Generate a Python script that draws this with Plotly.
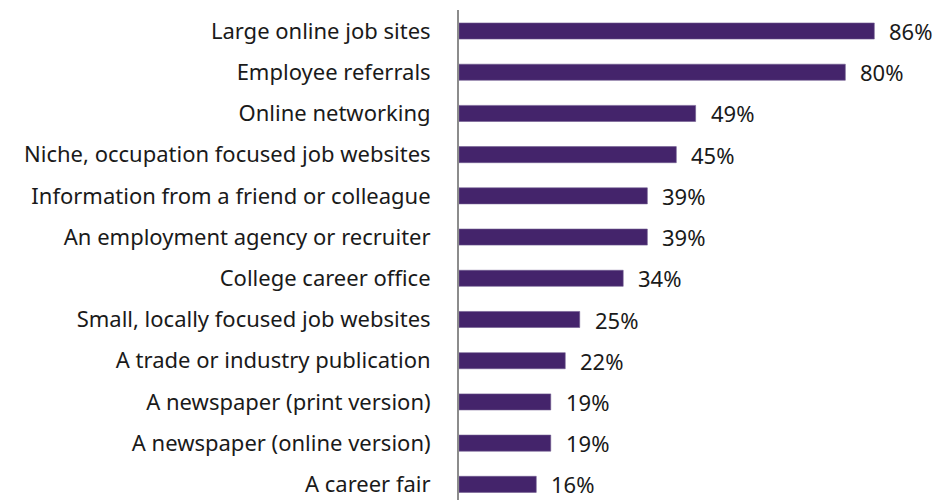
import plotly.graph_objects as go

categories = [
    "Large online job sites",
    "Employee referrals",
    "Online networking",
    "Niche, occupation focused job websites",
    "Information from a friend or colleague",
    "An employment agency or recruiter",
    "College career office",
    "Small, locally focused job websites",
    "A trade or industry publication",
    "A newspaper (print version)",
    "A newspaper (online version)",
    "A career fair",
]
values = [86, 80, 49, 45, 39, 39, 34, 25, 22, 19, 19, 16]

BAR_COLOR = "#44246b"
TEXT_COLOR = "#1a1a1a"
FONT = "Noto Sans"
FONT_SIZE = 22

positions = list(range(len(categories)))

fig = go.Figure(
    go.Bar(
        x=values,
        y=positions,
        orientation="h",
        width=0.39,
        marker=dict(color=BAR_COLOR, line=dict(color="#6f5a8f", width=0.6)),
        hoverinfo="skip",
    )
)

# value labels to the right of each bar
for p, v in zip(positions, values):
    fig.add_annotation(
        x=v, y=p, text=f"{v}%", showarrow=False,
        xanchor="left", yanchor="middle", xshift=13,
        font=dict(family=FONT, size=FONT_SIZE, color=TEXT_COLOR),
    )

fig.update_layout(
    width=939, height=500,
    margin=dict(l=459, r=0, t=10, b=0),
    paper_bgcolor="white", plot_bgcolor="white",
    showlegend=False,
    font=dict(family=FONT, size=FONT_SIZE, color=TEXT_COLOR),
)
fig.update_xaxes(range=[0, 99.4], visible=False)
fig.update_yaxes(
    range=[11.38, -0.51],
    tickvals=positions, ticktext=categories,
    showline=True, linecolor="#8c8c8c", linewidth=2,
    showgrid=False, zeroline=False,
    ticks="", ticklabelstandoff=22,
    tickfont=dict(family=FONT, size=FONT_SIZE, color=TEXT_COLOR),
)

fig.write_html("out.html")
